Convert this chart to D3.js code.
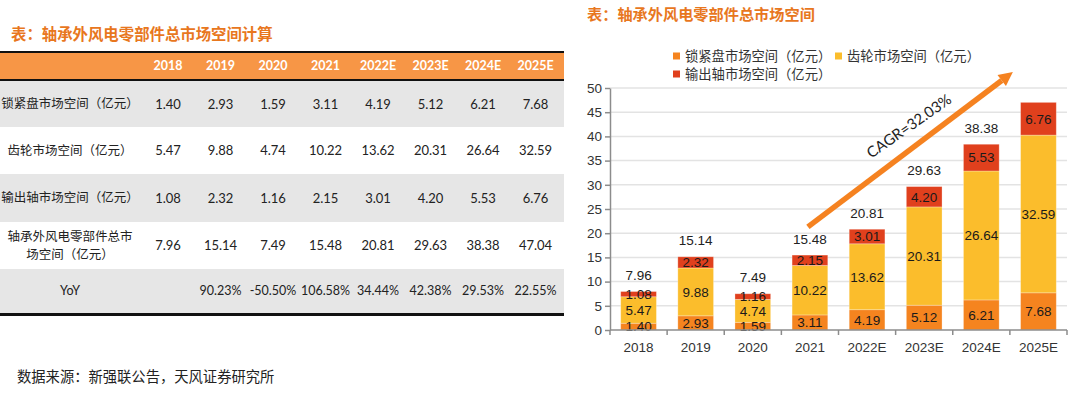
<!DOCTYPE html>
<html><head><meta charset="utf-8">
<script src="https://cdn.jsdelivr.net/npm/d3@7"></script>
<style>
html,body{margin:0;padding:0;background:#fff;}
svg{display:block;}
</style></head>
<body>
<script>
const years = ["2018","2019","2020","2021","2022E","2023E","2024E","2025E"];
const lockDisc = [1.40,2.93,1.59,3.11,4.19,5.12,6.21,7.68];
const gear = [5.47,9.88,4.74,10.22,13.62,20.31,26.64,32.59];
const outputShaft = [1.08,2.32,1.16,2.15,3.01,4.20,5.53,6.76];
const totals = [7.96,15.14,7.49,15.48,20.81,29.63,38.38,47.04];
const totalShown = [true,true,true,true,true,true,true,false];
const yoy = ["","90.23%","-50.50%","106.58%","34.44%","42.38%","29.53%","22.55%"];
const seriesNames = ["锁紧盘市场空间（亿元）","齿轮市场空间（亿元）","输出轴市场空间（亿元）"];
const rowLabels = [["锁紧盘市场空间（亿元）"],["齿轮市场空间（亿元）"],["输出轴市场空间（亿元）"],["轴承外风电零部件总市","场空间（亿元）"],["YoY"]];
const yTicks = [0,5,10,15,20,25,30,35,40,45,50];
const cagrText = "CAGR=32.03%";
const leftTitle = "表：轴承外风电零部件总市场空间计算";
const rightTitle = "表：轴承外风电零部件总市场空间";
const sourceText = "数据来源：新强联公告，天风证券研究所";

const colors = ["#F5841F","#FBBD2C","#E0401D"];
const CJK = "'Noto Sans CJK SC', sans-serif";
const LAT = "Lato, 'Open Sans', sans-serif";
const ARIAL = "'Liberation Sans', Arial, sans-serif";

const svg = d3.select("body").append("svg").attr("width",1080).attr("height",395);

// ===== LEFT TABLE =====
svg.append("text").attr("x",11).attr("y",40).text(leftTitle)
  .attr("font-family",CJK).attr("font-weight","bold").attr("font-size",15.4).attr("fill","#E8771E");

const tX = d3.scalePoint().domain(years).range([168,535.5]);
const rowBounds = [[81,127],[127,174],[174,222],[222,269],[269,313]];
const rowFill = ["#E6E6E6","#FFFFFF","#E6E6E6","#FFFFFF","#E6E6E6"];
const tableW = 564;

svg.append("rect").attr("x",0).attr("y",52).attr("width",tableW).attr("height",28).attr("fill","#F79646");
svg.append("line").attr("x1",0).attr("x2",tableW).attr("y1",52).attr("y2",52).attr("stroke","#111").attr("stroke-width",2);
svg.append("line").attr("x1",0).attr("x2",tableW).attr("y1",80).attr("y2",80).attr("stroke","#111").attr("stroke-width",2);
svg.selectAll("text.hdr").data(years).join("text").attr("class","hdr")
  .attr("x",d=>tX(d)).attr("y",66).attr("dy","0.35em").attr("text-anchor","middle")
  .attr("font-family",LAT).attr("font-weight","bold").attr("font-size",12.5).attr("fill","#fff").text(d=>d);

svg.selectAll("rect.row").data(rowBounds).join("rect").attr("class","row")
  .attr("x",0).attr("width",tableW).attr("y",d=>d[0]).attr("height",d=>d[1]-d[0])
  .attr("fill",(d,i)=>rowFill[i]);
svg.append("line").attr("x1",0).attr("x2",tableW).attr("y1",314.5).attr("y2",314.5).attr("stroke","#111").attr("stroke-width",3);

const tableRows = [
  lockDisc.map(v=>v.toFixed(2)),
  gear.map(v=>v.toFixed(2)),
  outputShaft.map(v=>v.toFixed(2)),
  totals.map(v=>v.toFixed(2)),
  yoy
];
tableRows.forEach((vals,ri)=>{
  const cy = (rowBounds[ri][0]+rowBounds[ri][1])/2;
  const lbl = rowLabels[ri];
  lbl.forEach((t,li)=>{
    svg.append("text").attr("x",70).attr("y",cy + (li-(lbl.length-1)/2)*18).attr("dy","0.35em")
      .attr("text-anchor","middle").attr("font-family", t==="YoY"?LAT:CJK)
      .attr("font-size",12.5).attr("fill","#222").text(t);
  });
  svg.selectAll(null).data(vals).join("text")
    .attr("x",(d,i)=>tX(years[i])).attr("y",cy).attr("dy","0.35em").attr("text-anchor","middle")
    .attr("font-family",LAT).attr("font-size",ri===4?12.5:13).attr("fill","#222").text(d=>d);
});

svg.append("text").attr("x",17).attr("y",377).attr("dy","0.35em").text(sourceText)
  .attr("font-family",CJK).attr("font-size",14.3).attr("fill","#222");

// ===== RIGHT CHART =====
svg.append("text").attr("x",587).attr("y",20).text(rightTitle)
  .attr("font-family",CJK).attr("font-weight","bold").attr("font-size",15.2).attr("fill","#E8771E");

const x = d3.scaleBand().domain(years).range([610,1067]).paddingInner(0.375).paddingOuter(0.1875);
const y = d3.scaleLinear().domain([0,50]).range([330,88]);

// grid
svg.selectAll("line.grid").data(yTicks.filter(t=>t>0)).join("line").attr("class","grid")
  .attr("x1",610).attr("x2",1067).attr("y1",d=>y(d)).attr("y2",d=>y(d))
  .attr("stroke","#E3E3E3").attr("stroke-width",1.5);

// stacked bars
const stackData = years.map((yr,i)=>({year:yr,a:lockDisc[i],b:gear[i],c:outputShaft[i]}));
const stack = d3.stack().keys(["a","b","c"])(stackData);
stack.forEach((s,si)=>{
  svg.selectAll(null).data(s).join("rect")
    .attr("x",d=>x(d.data.year)).attr("width",x.bandwidth())
    .attr("y",d=>y(d[1])).attr("height",d=>y(d[0])-y(d[1]))
    .attr("fill",colors[si]).attr("stroke","rgba(255,255,255,0.35)").attr("stroke-width",0.8);
});
stack.forEach((s,si)=>{
  svg.selectAll(null).data(s).join("text")
    .attr("x",d=>x(d.data.year)+x.bandwidth()/2).attr("y",d=>(y(d[0])+y(d[1]))/2).attr("dy","0.36em")
    .attr("text-anchor","middle").attr("font-family",ARIAL).attr("font-size",13.5).attr("fill","#1a1a1a")
    .text(d=>(d[1]-d[0]).toFixed(2));
});
// totals
svg.selectAll(null).data(years.filter((d,i)=>totalShown[i])).join("text")
  .attr("x",d=>x(d)+x.bandwidth()/2).attr("y",d=>y(totals[years.indexOf(d)])-16).attr("dy","0.35em")
  .attr("text-anchor","middle").attr("font-family",ARIAL).attr("font-size",13.5).attr("fill","#222")
  .text(d=>totals[years.indexOf(d)].toFixed(2));

// axes
const yAxis = svg.append("g").attr("transform","translate(610,0)")
  .call(d3.axisLeft(y).tickValues(yTicks).tickSize(5).tickSizeOuter(0).tickPadding(3));
yAxis.select(".domain").attr("stroke","#8C8C8C").attr("stroke-width",1.5);
yAxis.selectAll(".tick line").attr("stroke","#8C8C8C").attr("stroke-width",1.5);
yAxis.selectAll("text").attr("font-family",ARIAL).attr("font-size",13.5).attr("fill","#333");

const xg = svg.append("g");
xg.append("line").attr("x1",610).attr("x2",1067).attr("y1",y(0)).attr("y2",y(0)).attr("stroke","#8C8C8C").attr("stroke-width",1.5);
const bounds = years.map(d=>x(d)-x.step()*x.paddingInner()/2).concat([1067]);
xg.selectAll(null).data(bounds).join("line")
  .attr("x1",d=>d).attr("x2",d=>d).attr("y1",y(0)).attr("y2",y(0)+5).attr("stroke","#8C8C8C").attr("stroke-width",1.5);
xg.selectAll(null).data(years).join("text")
  .attr("x",d=>x(d)+x.bandwidth()/2).attr("y",347).attr("dy","0.35em").attr("text-anchor","middle")
  .attr("font-family",ARIAL).attr("font-size",13.5).attr("fill","#333").text(d=>d);

// legend
const legendItems = [
  {name:seriesNames[0],color:colors[0],lx:673,ly:56},
  {name:seriesNames[1],color:colors[1],lx:835,ly:56},
  {name:seriesNames[2],color:colors[2],lx:673,ly:74}
];
const lg = svg.selectAll("g.leg").data(legendItems).join("g").attr("class","leg");
lg.append("rect").attr("x",d=>d.lx).attr("y",d=>d.ly-3.5).attr("width",7).attr("height",7).attr("fill",d=>d.color);
lg.append("text").attr("x",d=>d.lx+12).attr("y",d=>d.ly).attr("dy","0.35em")
  .attr("font-family",CJK).attr("font-size",13.3).attr("fill","#333").text(d=>d.name);

// CAGR arrow
const ax0 = x("2021")+x.bandwidth()/2 - 2, ay0 = y(21.3);
const ax1 = x("2025E") - x.step()*x.paddingInner()/2 + 3, ay1 = y(53.3);
const ang = Math.atan2(ay1-ay0, ax1-ax0);
const headLen = 14, headW = 7;
const bx = ax1 - headLen*Math.cos(ang), by = ay1 - headLen*Math.sin(ang);
svg.append("line").attr("x1",ax0).attr("y1",ay0).attr("x2",bx).attr("y2",by)
  .attr("stroke","#F58220").attr("stroke-width",5.5);
const px = -Math.sin(ang), py = Math.cos(ang);
svg.append("polygon").attr("points",[
  [ax1,ay1],[bx+px*headW,by+py*headW],[bx-px*headW,by-py*headW]
].map(p=>p.join(",")).join(" ")).attr("fill","#F58220");

svg.append("text").attr("transform","translate(909,126) rotate(-35)")
  .attr("text-anchor","middle").attr("dy","0.35em")
  .attr("font-family",LAT).attr("font-size",15).attr("fill","#222").text(cagrText);
</script>
</body></html>
